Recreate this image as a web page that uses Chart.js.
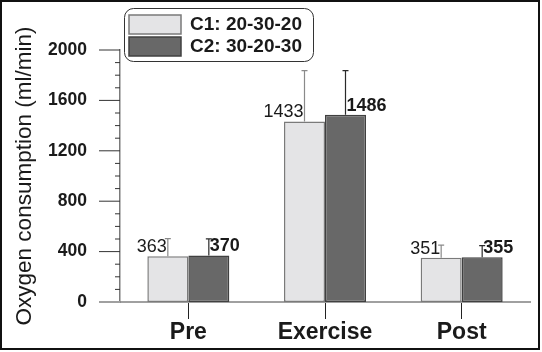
<!DOCTYPE html>
<html>
<head>
<meta charset="utf-8">
<script src="https://cdn.jsdelivr.net/npm/chart.js@4/dist/chart.umd.min.js"></script>
<style>
  html, body { margin: 0; padding: 0; background: #fff; }
  #wrap { width: 542px; height: 352px; }
</style>
</head>
<body>
<div id="wrap"><canvas id="myChart" width="542" height="352"></canvas></div>
<script>
const categories = ['Pre', 'Exercise', 'Post'];
const seriesNames = ['C1: 20-30-20', 'C2: 30-20-30'];
const c1Values = [363, 1433, 351];
const c2Values = [370, 1486, 355];
// upper error (SD)
const c1Errors = [140, 403, 101];
const c2Errors = [131, 350, 92];
const yTicks = [0, 400, 800, 1200, 1600, 2000];

const fontFamily = 'Arial, "Liberation Sans", sans-serif';
const c1Fill = '#e4e4e6';
const c1Border = '#7a7a7a';
const c2Fill = '#686868';
const c2Border = '#404040';

const errorBars = {
  id: 'errorBars',
  afterDatasetsDraw(chart) {
    const ctx = chart.ctx;
    const yScale = chart.scales.y;
    const errs = [c1Errors, c2Errors];
    const cols = ['#8a8a8a', '#2a2a2a'];
    chart.data.datasets.forEach((ds, di) => {
      const meta = chart.getDatasetMeta(di);
      meta.data.forEach((bar, i) => {
        const top = yScale.getPixelForValue(ds.data[i] + errs[di][i]);
        ctx.save();
        ctx.strokeStyle = cols[di];
        ctx.lineWidth = 1.2;
        ctx.beginPath();
        ctx.moveTo(bar.x, bar.y);
        ctx.lineTo(bar.x, top);
        ctx.moveTo(bar.x - 3, top);
        ctx.lineTo(bar.x + 3, top);
        ctx.stroke();
        ctx.restore();
      });
    });
  }
};

const valueLabels = {
  id: 'valueLabels',
  afterDatasetsDraw(chart) {
    const ctx = chart.ctx;
    chart.data.datasets.forEach((ds, di) => {
      const meta = chart.getDatasetMeta(di);
      meta.data.forEach((bar, i) => {
        ctx.save();
        ctx.fillStyle = '#1a1a1a';
        ctx.textBaseline = 'alphabetic';
        if (di === 0) {
          ctx.font = '18px ' + fontFamily;
          ctx.textAlign = 'right';
          ctx.fillText(ds.data[i], bar.x - 1, bar.y - 4);
        } else {
          ctx.font = 'bold 18px ' + fontFamily;
          ctx.textAlign = 'left';
          ctx.fillText(ds.data[i], bar.x + 1, bar.y - 4);
        }
        ctx.restore();
      });
    });
  }
};

const axisTicks = {
  id: 'axisTicks',
  afterDraw(chart) {
    const ctx = chart.ctx;
    const y = chart.scales.y;
    const left = chart.chartArea.left;
    ctx.save();
    for (let v = y.min; v <= y.max; v += 100) {
      const py = y.getPixelForValue(v);
      const major = yTicks.includes(v);
      ctx.strokeStyle = v === 0 ? '#a0a0a0' : '#333';
      ctx.lineWidth = v === 0 ? 2 : 1;
      ctx.beginPath();
      ctx.moveTo(left - (major ? 21 : 5), py);
      ctx.lineTo(left, py);
      ctx.stroke();
    }
    ctx.restore();
  }
};

const legendBox = {
  id: 'legendBox',
  afterDraw(chart) {
    const ctx = chart.ctx;
    ctx.save();
    ctx.strokeStyle = '#333';
    ctx.lineWidth = 1;
    ctx.beginPath();
    ctx.roundRect(124.5, 8.5, 189, 53, 9);
    ctx.stroke();
    const fills = [c1Fill, c2Fill];
    const borders = [c1Border, c2Border];
    const ys = [15, 37];
    seriesNames.forEach((name, i) => {
      ctx.fillStyle = fills[i];
      ctx.fillRect(129, ys[i], 52, 19);
      ctx.strokeStyle = borders[i];
      ctx.lineWidth = 1.5;
      ctx.strokeRect(129, ys[i], 52, 19);
      ctx.fillStyle = '#1a1a1a';
      ctx.font = 'bold 19px ' + fontFamily;
      ctx.textBaseline = 'middle';
      ctx.textAlign = 'left';
      ctx.fillText(name, 190, ys[i] + 10);
    });
    // outer frame
    ctx.strokeStyle = '#111';
    ctx.lineWidth = 2;
    ctx.strokeRect(1, 1, 538, 348);
    ctx.restore();
  }
};

const whiteBg = {
  id: 'whiteBg',
  beforeDraw(chart) {
    const ctx = chart.ctx;
    ctx.save();
    ctx.fillStyle = '#fff';
    ctx.fillRect(0, 0, chart.width, chart.height);
    ctx.restore();
  }
};

const ctx = document.getElementById('myChart').getContext('2d');
const chart = new Chart(ctx, {
  type: 'bar',
  data: {
    labels: categories,
    datasets: [{
      label: seriesNames[0],
      data: c1Values,
      backgroundColor: c1Fill,
      borderColor: c1Border,
      borderWidth: 1.5,
      borderSkipped: false
    }, {
      label: seriesNames[1],
      data: c2Values,
      backgroundColor: c2Fill,
      borderColor: c2Border,
      borderWidth: 1.5,
      borderSkipped: false
    }]
  },
  options: {
    responsive: false,
    animation: false,
    layout: { padding: { top: 50, right: 12, left: 0, bottom: 0 } },
    datasets: { bar: { categoryPercentage: 0.6, barPercentage: 1.0 } },
    plugins: {
      legend: { display: false },
      tooltip: { enabled: false }
    },
    scales: {
      x: {
        grid: {
          offset: false,
          drawOnChartArea: false,
          drawTicks: true,
          tickLength: 17,
          color: '#222',
          lineWidth: 1
        },
        border: { color: '#a0a0a0', width: 2 },
        ticks: {
          color: '#1a1a1a',
          font: { family: fontFamily, size: 23, weight: 'bold' },
          padding: 0
        },
        afterFit(scale) { scale.height = 50; }
      },
      y: {
        min: 0,
        max: 2000,
        afterBuildTicks(scale) { scale.ticks = yTicks.map(v => ({ value: v })); },
        grid: { display: false, drawTicks: false },
        border: { color: '#7a7a7a', width: 1.5 },
        ticks: {
          color: '#1a1a1a',
          font: { family: fontFamily, size: 17.5, weight: 'bold' },
          padding: 33,
          callback: (v) => String(v)
        },
        title: {
          display: true,
          text: 'Oxygen consumption (ml/min)',
          color: '#1a1a1a',
          font: { family: fontFamily, size: 22.5, weight: 'normal' },
          padding: { top: 11, bottom: 0 }
        },
        afterFit(scale) { scale.width = 120; }
      }
    }
  },
  plugins: [whiteBg, errorBars, valueLabels, axisTicks, legendBox]
});
</script>
</body>
</html>
